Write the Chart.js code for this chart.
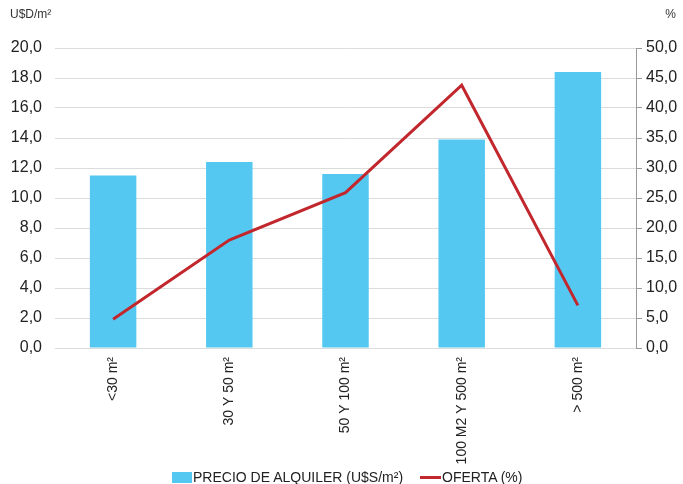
<!DOCTYPE html>
<html>
<head>
  <title>Precio de alquiler y oferta</title>
  <script src="https://cdn.jsdelivr.net/npm/chart.js"></script>
  <style>
    body { margin: 0; background: #fff; font-family: 'Liberation Sans', Arial, sans-serif; }
    #wrap { position: relative; width: 683px; height: 484px; }
    #legend {
      position: absolute; left: 172px; top: 469px; height: 16px;
      display: flex; align-items: center; font-size: 14px; color: #222; white-space: nowrap;
    }
    #legend .item { display: flex; align-items: center; margin-right: 17px; }
    #legend .swatch { width: 20px; height: 11px; margin-right: 1px; }
    #legend .swatch.line { width: 21px; height: 3px; }
  </style>
</head>
<body>

<div id="wrap">
  <canvas id="rentChart" width="683" height="484"></canvas>
  <div id="legend"></div>
</div>

<script>
  const categories = ['<30 m²', '30 Y 50 m²', '50 Y 100 m²', '100 M2 Y 500 m²', '> 500 m²'];
  const precio = [11.5, 12.4, 11.6, 13.9, 18.4];   // U$D/m²
  const oferta = [4.8, 18.0, 25.9, 43.8, 7.1];     // %

  const FONT = "'Liberation Sans', Arial, sans-serif";
  const comma = v => Number(v).toFixed(1).replace('.', ',');

  // unit captions above both y axes
  const unitLabels = {
    id: 'unitLabels',
    afterDraw(chart) {
      const ctx = chart.ctx;
      ctx.save();
      ctx.font = '12px ' + FONT;
      ctx.fillStyle = '#333';
      ctx.textBaseline = 'middle';
      ctx.textAlign = 'left';
      ctx.fillText('U$D/m²', 10, 15);
      ctx.textAlign = 'right';
      ctx.fillText('%', 676, 15);
      ctx.restore();
    }
  };

  const chart = new Chart(document.getElementById('rentChart'), {
    type: 'bar',
    data: {
      labels: categories,
      datasets: [{
        type: 'bar',
        label: 'PRECIO DE ALQUILER (U$S/m²)',
        data: precio,
        backgroundColor: '#55c8f2',
        barPercentage: 0.4,
        categoryPercentage: 1,
        yAxisID: 'y',
        order: 1
      }, {
        type: 'line',
        label: 'OFERTA (%)',
        data: oferta,
        borderColor: '#c1272d',
        backgroundColor: '#c1272d',
        borderWidth: 3,
        pointRadius: 0,
        tension: 0,
        yAxisID: 'y1',
        order: 0
      }]
    },
    options: {
      responsive: false,
      animation: false,
      layout: { padding: { top: 48, left: 10, right: 6, bottom: 18 } },
      plugins: {
        tooltip: { enabled: false },
        legend: { display: false }   // html legend below, it tucks under the long labels
      },
      scales: {
        x: {
          grid: { display: false },
          border: { display: false },
          afterFit: s => { s.height = 118; },
          ticks: {
            minRotation: 90,
            maxRotation: 90,
            padding: 1,
            color: '#222',
            font: { family: FONT, size: 14 }
          }
        },
        y: {
          position: 'left',
          min: 0,
          max: 20,
          afterFit: s => { s.width = 45; },
          ticks: {
            stepSize: 2,
            padding: 13,
            color: '#222',
            font: { family: FONT, size: 16 },
            callback: comma
          },
          grid: { color: '#dcdcdc', drawTicks: false },
          border: { display: false }
        },
        y1: {
          position: 'right',
          min: 0,
          max: 50,
          afterFit: s => { s.width = 41; },
          ticks: {
            stepSize: 5,
            padding: 4,
            color: '#222',
            font: { family: FONT, size: 16 },
            callback: comma
          },
          grid: { drawOnChartArea: false, tickLength: 6, color: '#999' },
          border: { display: true, color: '#999' }
        }
      }
    },
    plugins: [unitLabels]
  });

  // build the legend from the datasets
  const legend = document.getElementById('legend');
  chart.data.datasets.forEach(ds => {
    const item = document.createElement('div');
    item.className = 'item';
    const sw = document.createElement('span');
    sw.className = 'swatch' + (ds.type === 'line' ? ' line' : '');
    sw.style.background = ds.type === 'line' ? ds.borderColor : ds.backgroundColor;
    const txt = document.createElement('span');
    txt.textContent = ds.label;
    item.appendChild(sw);
    item.appendChild(txt);
    legend.appendChild(item);
  });
</script>

</body>
</html>
